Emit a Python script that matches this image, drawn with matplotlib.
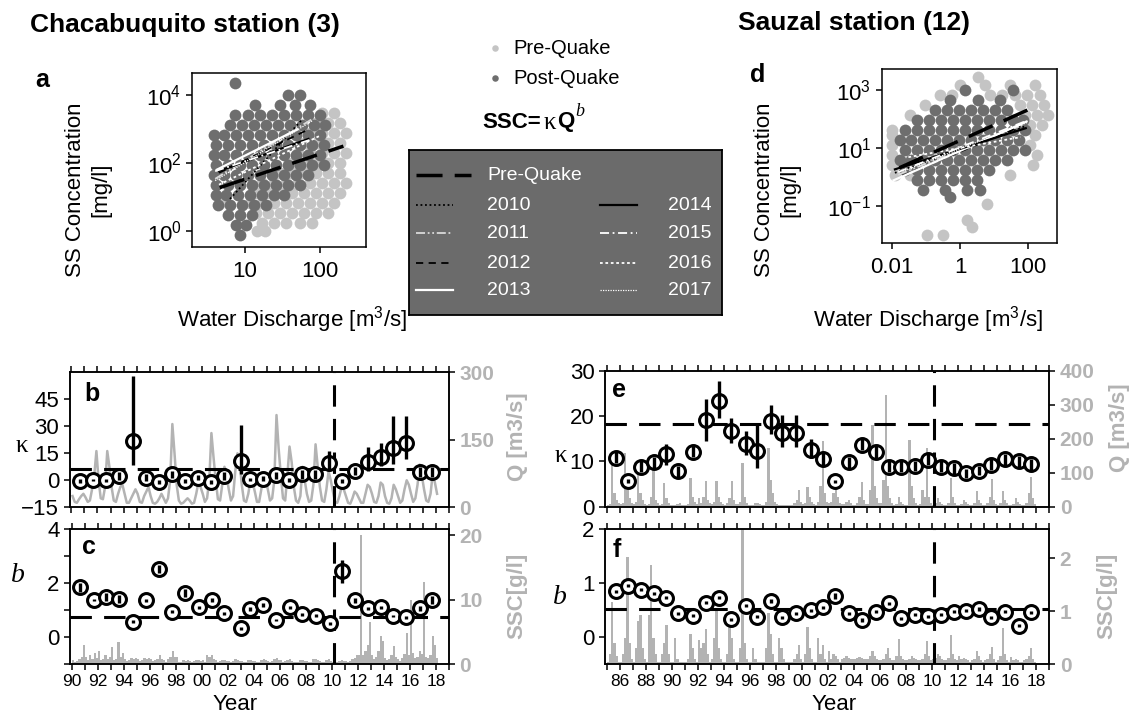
import numpy as np
import matplotlib
matplotlib.use("Agg")
import matplotlib.pyplot as plt
from matplotlib.ticker import NullLocator

plt.rcParams["font.family"] = ["Liberation Sans", "DejaVu Sans"]
plt.rcParams["mathtext.fontset"] = "custom"
plt.rcParams["mathtext.rm"] = "Liberation Sans"
plt.rcParams["mathtext.it"] = "Liberation Sans:italic"
plt.rcParams["mathtext.bf"] = "Liberation Sans:bold"
plt.rcParams["axes.linewidth"] = 1.1

W, H = 1136, 715
GRAY_TS = "#b3b3b3"
PRE_C = "#c4c4c4"
POST_C = "#6e6e6e"
QUAKE = 2010.16

# ---------------- Chacabuquito: annual rating-curve parameters (b, c)
chac_year = [1990.65, 1991.67, 1992.64, 1993.64, 1994.69, 1995.69, 1996.71, 1997.70,
             1998.70, 1999.75, 2000.74, 2001.69, 2003.04, 2003.68, 2004.70, 2005.72,
             2006.74, 2007.72, 2008.74, 2009.81, 2010.78, 2011.78, 2012.74, 2013.77,
             2014.71, 2015.69, 2016.76, 2017.68]
chac_k = [-0.4, 0.0, 0.0, 2.4, 21.8, 1.5, -0.8, 3.3, -0.4, 1.5, -0.8, 2.4, 10.7, 0.5,
          0.9, 2.8, 0.2, 3.3, 3.3, 9.4, -0.4, 5.2, 10.3, 13.1, 17.8, 20.9, 4.6, 4.6]
chac_k_lo = [-1.4, -0.6, -1.0, 0.4, 8.3, -0.5, -1.8, 1.3, -1.4, 0.0, -1.8, 0.4, 3.3, -0.5,
             -0.6, 0.8, -0.8, 0.8, 0.8, 5.2, -1.4, 3.2, 5.2, 7.9, 8.9, 11.7, 1.6, 1.6]
chac_k_hi = [0.6, 0.6, 1.0, 4.4, 58.0, 3.5, 0.2, 5.3, 0.6, 3.0, 0.2, 4.4, 30.5, 1.5,
             2.4, 4.8, 1.2, 5.8, 5.8, 16.3, 0.6, 7.2, 18.5, 20.6, 36.0, 36.0, 7.6, 7.6]
chac_b = [1.84, 1.38, 1.50, 1.41, 0.58, 1.36, 2.53, 0.95, 1.63, 1.11, 1.38, 0.89, 0.33, 1.04,
          1.20, 0.64, 1.10, 0.85, 0.79, 0.52, 2.43, 1.36, 1.07, 1.10, 0.79, 0.73, 1.07, 1.36]
chac_b_err = [0.15, 0.05, 0.15, 0.15, 0.04, 0.06, 0.15, 0.05, 0.15, 0.06, 0.06, 0.05, 0.05, 0.06,
              0.07, 0.05, 0.06, 0.06, 0.06, 0.05, 0.44, 0.08, 0.06, 0.06, 0.05, 0.05, 0.10, 0.15]
chac_k_pre, chac_b_pre = 6.1, 0.74

# ---------------- Sauzal: annual rating-curve parameters (e, f)
sauz_year = [1985.69, 1986.64, 1987.59, 1988.61, 1989.53, 1990.48, 1991.63, 1992.58, 1993.62,
             1994.52, 1995.67, 1996.54, 1997.59, 1998.49, 1999.56, 2000.66, 2001.60, 2002.56,
             2003.60, 2004.63, 2005.65, 2006.67, 2007.57, 2008.64, 2009.66, 2010.64, 2011.66,
             2012.61, 2013.58, 2014.53, 2015.63, 2016.65, 2017.60]
sauz_k = [10.8, 5.7, 8.8, 9.8, 11.6, 7.8, 12.2, 19.2, 23.3, 16.7, 13.9, 12.4, 19.0, 16.3, 16.3,
          12.6, 10.6, 5.6, 9.8, 13.7, 12.2, 8.8, 8.8, 9.0, 10.4, 8.8, 8.5, 7.4, 7.9, 9.3, 10.5,
          10.0, 9.4]
sauz_k_lo = [9.6, 5.3, 7.6, 8.6, 9.3, 6.6, 11.0, 14.6, 19.6, 14.1, 11.5, 8.5, 16.1, 13.1, 13.3,
             10.8, 9.1, 5.2, 8.6, 12.5, 10.7, 7.6, 7.6, 7.8, 9.2, 7.6, 7.3, 6.4, 6.9, 8.1, 9.3,
             8.8, 8.2]
sauz_k_hi = [12.0, 6.1, 10.0, 11.0, 13.9, 9.0, 13.4, 23.9, 27.8, 19.6, 16.7, 18.3, 22.4, 20.2,
             20.2, 15.0, 12.1, 6.0, 11.0, 14.9, 13.7, 10.0, 10.0, 10.2, 11.6, 10.0, 9.7, 8.4,
             8.9, 10.5, 11.7, 11.2, 10.6]
sauz_b = [0.85, 0.95, 0.88, 0.81, 0.73, 0.44, 0.40, 0.64, 0.73, 0.33, 0.58, 0.38, 0.67, 0.37,
          0.44, 0.50, 0.55, 0.76, 0.44, 0.32, 0.47, 0.63, 0.35, 0.42, 0.39, 0.42, 0.47, 0.49,
          0.52, 0.37, 0.47, 0.21, 0.46]
sauz_b_err = [0.03, 0.03, 0.03, 0.03, 0.03, 0.03, 0.03, 0.03, 0.03, 0.03, 0.03, 0.03, 0.03,
              0.03, 0.03, 0.03, 0.03, 0.06, 0.03, 0.03, 0.03, 0.03, 0.03, 0.03, 0.03, 0.03,
              0.03, 0.03, 0.03, 0.03, 0.03, 0.03, 0.03]
sauz_k_pre, sauz_b_pre = 18.2, 0.53

# ---------------- gray background series, six samples per year (Jan..Nov)
chac_q = [25, 12, 10, 18, 25, 30,      # 1990
          22, 12, 15, 40, 70, 125,
          60, 20, 18, 45, 125, 90,
          45, 15, 12, 30, 45, 50,
          30, 10, 10, 20, 30, 40,
          30, 12, 10, 25, 35, 45,      # 1995
          25, 10, 8, 12, 20, 30,
          20, 10, 20, 60, 185, 120,
          50, 15, 8, 10, 15, 20,
          15, 8, 10, 30, 55, 45,
          30, 12, 20, 60, 165, 110,    # 2000
          60, 18, 15, 50, 90, 70,
          40, 15, 25, 80, 120, 100,
          50, 15, 12, 30, 60, 55,
          35, 12, 12, 40, 70, 60,
          40, 15, 20, 60, 205, 130,    # 2005
          70, 20, 15, 70, 135, 100,
          45, 15, 10, 25, 90, 60,
          30, 12, 15, 50, 140, 90,
          45, 15, 12, 40, 80, 60,
          35, 12, 10, 25, 45, 40,      # 2010
          25, 10, 8, 20, 35, 30,
          20, 10, 10, 30, 50, 45,
          30, 12, 10, 25, 55, 50,
          25, 10, 8, 20, 50, 40,
          25, 10, 15, 40, 60, 50,      # 2015
          30, 12, 20, 50, 95, 70,
          40, 15, 12, 30, 75, 55,
          30]
chac_ssc = [0.7, 0.4, 0.5, 0.8, 1.2, 3.0,   # 1990
            1.2, 0.6, 1.5, 0.8, 1.7, 1.0,
            2.0, 0.6, 0.8, 1.5, 0.9, 1.2,
            2.7, 0.7, 0.9, 3.5, 1.2, 1.7,
            0.8, 0.5, 0.6, 1.0, 0.9, 1.0,
            0.9, 0.5, 0.7, 1.0, 0.8, 1.0,   # 1995
            0.8, 0.5, 0.6, 0.9, 1.4, 0.8,
            0.7, 0.4, 0.8, 1.2, 2.1, 1.1,
            1.1, 0.4, 0.4, 0.6, 0.5, 0.6,
            0.5, 0.4, 0.5, 0.6, 0.7, 0.5,
            0.6, 0.4, 1.5, 1.2, 1.5, 0.8,   # 2000
            0.6, 0.4, 0.5, 0.7, 0.6, 0.5,
            0.5, 0.3, 0.5, 0.8, 0.6, 0.5,
            0.5, 0.3, 0.4, 0.6, 0.6, 0.5,
            0.5, 0.3, 0.4, 0.7, 0.8, 0.6,
            0.5, 0.3, 0.5, 0.8, 1.0, 0.6,   # 2005
            0.6, 0.3, 0.5, 0.7, 0.8, 0.5,
            0.4, 0.3, 0.4, 0.6, 0.7, 0.5,
            0.5, 0.3, 0.4, 0.8, 0.9, 0.6,
            0.5, 0.3, 0.4, 0.6, 0.8, 0.5,
            0.4, 0.3, 0.4, 0.5, 0.6, 0.5,   # 2010
            0.5, 0.4, 0.5, 0.8, 1.0, 1.4,
            1.5, 20.0, 1.4, 2.0, 3.0, 6.6,
            1.5, 0.8, 1.2, 2.0, 4.4, 3.6,
            1.0, 0.6, 0.8, 1.5, 2.8, 1.2,
            0.8, 0.5, 1.0, 1.6, 4.8, 1.5,   # 2015
            10.0, 1.7, 1.0, 1.2, 2.0, 1.6,
            12.8, 1.2, 1.0, 1.5, 4.4, 3.0,
            1.0]
sauz_q = [5, 8, 143, 40, 20, 10,       # 1985
          8, 10, 157, 50, 25, 12,
          8, 15, 95, 40, 20, 8,
          6, 8, 30, 108, 20, 10,
          5, 8, 69, 25, 12, 6,
          4, 5, 8, 12, 6, 4,           # 1990
          5, 8, 84, 30, 15, 8,
          26, 10, 30, 76, 20, 10,
          8, 15, 76, 30, 15, 8,
          6, 10, 25, 76, 20, 8,
          8, 15, 128, 30, 12, 6,       # 1995
          5, 6, 10, 12, 8, 5,
          6, 15, 172, 80, 40, 15,
          8, 6, 5, 6, 5, 4,
          5, 6, 10, 20, 49, 15,
          8, 10, 59, 30, 15, 8,        # 2000
          6, 15, 60, 194, 40, 15,
          10, 15, 40, 70, 30, 12,
          8, 8, 15, 20, 10, 6,
          6, 10, 30, 74, 20, 8,
          8, 50, 241, 60, 25, 10,      # 2005
          10, 80, 329, 60, 25, 10,
          6, 8, 30, 15, 8, 5,
          6, 197, 60, 25, 12, 6,
          8, 49, 30, 172, 30, 10,
          6, 10, 26, 15, 8, 5,         # 2010
          5, 10, 84, 30, 12, 5,
          5, 8, 20, 15, 8, 4,
          5, 10, 46, 20, 10, 5,
          5, 10, 30, 82, 20, 8,
          6, 10, 46, 20, 10, 5,        # 2015
          5, 8, 25, 15, 8, 5,
          6, 12, 40, 87, 25, 8]
sauz_ssc = [0.05, 0.2, 1.17, 0.4, 0.15, 0.05,   # 1985
            0.05, 0.2, 0.5, 2.03, 0.4, 0.1,
            0.05, 0.3, 0.81, 0.93, 0.3, 0.1,
            0.05, 0.93, 1.88, 0.5, 0.2, 0.05,
            0.05, 0.2, 0.4, 0.75, 0.2, 0.05,
            0.05, 0.49, 0.1, 0.05, 0.05, 0.05,  # 1990
            0.05, 0.1, 0.57, 0.3, 0.1, 0.05,
            0.46, 0.3, 0.4, 0.67, 0.2, 0.05,
            0.1, 0.5, 1.03, 0.3, 0.1, 0.05,
            0.05, 0.2, 1.0, 0.5, 0.1, 0.05,
            0.05, 0.3, 2.55, 0.4, 0.1, 0.05,    # 1995
            0.05, 0.3, 0.1, 0.05, 0.05, 0.05,
            0.05, 0.3, 0.97, 0.57, 0.2, 0.05,
            0.05, 0.5, 0.3, 0.1, 0.05, 0.05,
            0.05, 0.05, 0.1, 0.2, 0.37, 0.1,
            0.05, 0.2, 0.71, 0.3, 0.1, 0.05,    # 2000
            0.05, 0.49, 0.2, 0.37, 0.1, 0.05,
            0.25, 0.1, 0.2, 0.15, 0.1, 0.05,
            0.1, 0.12, 0.15, 0.12, 0.1, 0.1,
            0.1, 0.12, 0.14, 0.12, 0.1, 0.1,
            0.1, 0.15, 0.26, 0.15, 0.1, 0.08,   # 2005
            0.08, 0.1, 0.2, 0.31, 0.12, 0.08,
            0.08, 0.15, 0.47, 0.15, 0.1, 0.08,
            0.08, 0.1, 0.15, 0.12, 0.1, 0.08,
            0.08, 0.1, 0.2, 0.43, 0.15, 0.08,
            0.1, 0.12, 0.2, 0.15, 0.1, 0.08,    # 2010
            0.08, 0.12, 0.56, 0.2, 0.1, 0.08,
            0.15, 0.1, 0.12, 0.1, 0.08, 0.05,
            0.08, 0.1, 0.26, 0.15, 0.08, 0.05,
            0.08, 0.1, 0.2, 0.33, 0.1, 0.05,
            0.08, 0.15, 0.68, 0.2, 0.08, 0.05,  # 2015
            0.14, 0.08, 0.1, 0.08, 0.05, 0.05,
            0.08, 0.1, 0.15, 0.31, 0.1, 0.05]

# ---------------- scatter clouds, rows of (log10 SSC, [log10 Q, ...])
chac_post_rows = [
    (4.35, [0.87]),
    (4.00, [1.57, 1.73]),
    (3.71, [1.13, 1.47, 1.67, 1.87]),
    (3.41, [0.87, 1.04, 1.20, 1.36, 1.52, 1.68, 1.84, 2.00]),
    (3.12, [0.80, 0.96, 1.12, 1.28, 1.44, 1.60, 1.76, 1.92, 2.07]),
    (2.82, [0.59, 0.72, 0.88, 1.04, 1.20, 1.36, 1.52, 1.68, 1.84, 2.00]),
    (2.53, [0.61, 0.77, 0.93, 1.09, 1.25, 1.41, 1.57, 1.73, 1.89, 2.05]),
    (2.24, [0.59, 0.72, 0.88, 1.04, 1.20, 1.36, 1.52, 1.68, 1.84, 2.00]),
    (1.94, [0.61, 0.77, 0.93, 1.09, 1.25, 1.41, 1.57, 1.73, 1.89, 2.05]),
    (1.65, [0.59, 0.72, 0.88, 1.04, 1.20, 1.36, 1.52, 1.68, 1.84]),
    (1.35, [0.61, 0.77, 0.93, 1.09, 1.25, 1.41, 1.57, 1.73]),
    (1.06, [0.61, 0.75, 0.91, 1.07, 1.23, 1.39, 1.52]),
    (0.76, [0.64, 0.80, 0.96, 1.12, 1.28]),
    (0.47, [0.77, 0.93, 1.09]),
    (0.18, [0.88, 1.01]),
    (-0.12, [0.93]),
]
chac_pre_rows = [
    (3.47, [2.03, 2.19]),
    (3.18, [1.95, 2.11, 2.27]),
    (2.88, [1.87, 2.03, 2.19, 2.35]),
    (2.59, [1.79, 1.95, 2.11, 2.27]),
    (2.29, [1.71, 1.87, 2.03, 2.19, 2.35]),
    (2.00, [1.63, 1.79, 1.95, 2.11, 2.27]),
    (1.71, [1.47, 1.63, 1.79, 1.95, 2.11, 2.27]),
    (1.41, [1.23, 1.39, 1.55, 1.71, 1.87, 2.03, 2.19, 2.35]),
    (1.12, [1.15, 1.31, 1.47, 1.63, 1.79, 1.95, 2.11, 2.27]),
    (0.82, [0.67, 1.07, 1.23, 1.39, 1.55, 1.71, 1.87, 2.03, 2.19]),
    (0.53, [1.15, 1.31, 1.47, 1.63, 1.79, 1.95, 2.11]),
    (0.24, [1.23, 1.39, 1.55, 1.73, 1.89]),
    (0.00, [1.16, 1.27]),
]
sauz_post_rows = [
    (3.00, [0.14, 1.55]),
    (2.65, [-0.30, 0.52, 1.17]),
    (2.30, [-0.75, -0.39, -0.04, 0.31, 0.67, 1.02, 1.37]),
    (1.96, [-1.27, -0.92, -0.57, -0.22, 0.14, 0.49, 0.84, 1.20, 1.55, 1.84]),
    (1.61, [-1.63, -1.27, -0.92, -0.57, -0.22, 0.14, 0.49, 0.84, 1.20, 1.55, 1.90]),
    (1.27, [-1.78, -1.45, -1.10, -0.75, -0.39, -0.04, 0.31, 0.67, 1.02, 1.37, 1.73]),
    (0.92, [-1.63, -1.27, -0.92, -0.57, -0.22, 0.14, 0.49, 0.84, 1.20, 1.55, 1.90]),
    (0.57, [-1.78, -1.45, -1.10, -0.75, -0.39, -0.04, 0.31, 0.67, 1.02, 1.37]),
    (0.23, [-1.63, -1.27, -0.92, -0.57, -0.22, 0.14, 0.49, 0.84]),
    (-0.12, [-1.27, -0.92, -0.57, -0.22, 0.14, 0.49]),
    (-0.46, [-1.10, -0.45, 0.19, 0.58]),
    (-0.70, [-0.30]),
]
sauz_pre_rows = [
    (3.45, [0.52]),
    (3.17, [-0.01, 0.72, 1.46, 2.19]),
    (2.82, [-0.60, -0.25, 0.87, 1.23, 1.61, 1.96, 2.34]),
    (2.48, [-1.04, 1.76, 2.11, 2.46]),
    (2.13, [-1.48, 1.90, 2.26, 2.58]),
    (1.79, [2.05, 2.40]),
    (1.61, [-2.00]),
    (1.44, [-2.00, 2.20]),
    (1.09, [-2.00, 2.05]),
    (0.75, [-2.00, 2.26]),
    (0.40, [-2.00, -1.63, 2.14]),
    (0.06, [-1.92, -1.48, 1.46]),
    (-0.95, [0.78]),
    (-1.50, [0.20]),
    (-1.74, [0.34]),
    (-2.03, [-0.98, -0.51]),
]

# discharge range covered by each yearly fit (2010..2017) and the pre-quake fit
fit_years = [2010, 2011, 2012, 2013, 2014, 2015, 2016, 2017]
chac_fit_qlo = [6.3, 4.0, 4.5, 4.2, 4.5, 4.0, 4.5, 4.0]
chac_fit_qhi = [56, 80, 70, 50, 70, 80, 100, 80]
chac_pre_rng = (4.6, 205)
sauz_fit_qlo = [0.012, 0.015, 0.02, 0.011, 0.012, 0.015, 0.03, 0.02]
sauz_fit_qhi = [80, 70, 60, 90, 85, 90, 60, 100]
sauz_pre_rng = (0.016, 160)

line_style = {
    "pre": dict(color="k", lw=2.5, dashes=(7.5, 3.5)),
    2010: dict(color="k", lw=1.3, dashes=(1, 1.5)),
    2011: dict(color="#d9d9d9", lw=1.3, dashes=(5, 1.5, 1, 1.5, 1, 1.5)),
    2012: dict(color="k", lw=1.3, dashes=(4, 3)),
    2013: dict(color="white", lw=1.6),
    2014: dict(color="k", lw=1.6),
    2015: dict(color="white", lw=1.3, dashes=(5, 2, 1, 2)),
    2016: dict(color="white", lw=1.3, dashes=(1.5, 1.5)),
    2017: dict(color="white", lw=0.9, dashes=(1, 1)),
}


def px_axes(fig, l, t, r, b):
    return fig.add_axes([l / W, 1 - b / H, (r - l) / W, (b - t) / H])


def expand(rows):
    q, s = [], []
    for lssc, lqs in rows:
        for lq in lqs:
            q.append(10 ** lq)
            s.append(10 ** lssc)
    return q, s


fig = plt.figure(figsize=(W / 100, H / 100), dpi=100)


def scatter_panel(box, pre_rows, post_rows, k_pre, b_pre, pre_rng, ks, bs, qlo, qhi,
                  xlim, ylim, xticks, yticks, xlabels):
    ax = px_axes(fig, *box)
    ax.set_xscale("log")
    ax.set_yscale("log")
    q, s = expand(pre_rows)
    ax.scatter(q, s, s=72, color=PRE_C, linewidths=0, zorder=1)
    q, s = expand(post_rows)
    ax.scatter(q, s, s=72, color=POST_C, linewidths=0, zorder=2)
    qq = np.array(pre_rng)
    ax.plot(qq, k_pre * qq ** b_pre, zorder=4, **line_style["pre"])
    for yr, k, b, lo, hi in zip(fit_years, ks, bs, qlo, qhi):
        qq = np.array([lo, hi])
        ax.plot(qq, max(k, 0.1) * qq ** b, zorder=3, **line_style[yr])
    ax.set_xlim(*xlim)
    ax.set_ylim(*ylim)
    ax.set_xticks(xticks)
    ax.set_xticklabels(xlabels)
    ax.set_yticks(yticks)
    ax.xaxis.set_minor_locator(NullLocator())
    ax.yaxis.set_minor_locator(NullLocator())
    ax.tick_params(direction="out", length=4, width=1.1, labelsize=16)
    ax.tick_params(axis="x", pad=6)
    return ax


ax_a = scatter_panel((192, 73, 366, 247), chac_pre_rows, chac_post_rows, chac_k_pre,
                     chac_b_pre, chac_pre_rng, chac_k[-8:], chac_b[-8:], chac_fit_qlo,
                     chac_fit_qhi, (10 ** 0.293, 10 ** 2.613), (10 ** -0.47, 10 ** 4.647),
                     [10, 100], [1, 100, 1e4], ["10", "100"])
ax_d = scatter_panel((881.7, 69, 1056.7, 243), sauz_pre_rows, sauz_post_rows, sauz_k_pre,
                     sauz_b_pre, sauz_pre_rng, sauz_k[-8:], sauz_b[-8:], sauz_fit_qlo,
                     sauz_fit_qhi, (10 ** -2.31, 10 ** 2.84), (10 ** -2.29, 10 ** 3.73),
                     [0.01, 1, 100], [0.1, 10, 1000], ["0.01", "1", "100"])


def param_panel(box, x, y, lo, hi, pre, xlim, ylim, yticks, ylabels, top_panel):
    ax = px_axes(fig, *box)
    ax2 = ax.twinx()
    ax.set_zorder(ax2.get_zorder() + 1)
    ax.patch.set_visible(False)
    ax.axhline(pre, color="k", lw=2.2, dashes=(7, 4), zorder=2)
    ax.axvline(QUAKE, color="k", lw=2.2, dashes=(7, 4), zorder=2)
    ax.plot(x, y, "o", ls="none", ms=10, mfc="white", mec="k", mew=2.2, zorder=3)
    ax.vlines(x, lo, hi, color="k", lw=2.4, zorder=4)
    ax.set_xlim(*xlim)
    ax.set_ylim(*ylim)
    ax.set_yticks(yticks)
    ax.set_yticklabels(ylabels)
    years = list(range(int(np.ceil(xlim[0])), 2020))
    ax.set_xticks(years)
    ax.set_xticklabels([f"{yr % 100:02d}" if yr % 2 == 0 else "" for yr in years])
    ax.tick_params(axis="x", direction="out", length=4, width=1.1, top=True, bottom=True,
                   labelbottom=not top_panel, labelsize=12.5, pad=3)
    ax.tick_params(axis="y", direction="out", length=4, width=1.1, labelsize=16)
    ax2.set_xlim(*xlim)
    return ax, ax2


def style_right(ax2, ylim, ticks):
    ax2.set_ylim(*ylim)
    ax2.set_yticks(ticks)
    ax2.tick_params(axis="y", direction="out", length=4, width=1.1, labelsize=15,
                    labelcolor=GRAY_TS)
    for t in ax2.get_yticklabels():
        t.set_fontweight("bold")


chac_t = 1990 + 1 / 12 + np.arange(len(chac_q)) / 6
sauz_t = 1985 + 1 / 12 + np.arange(len(sauz_q)) / 6
ch_xlim = (1989.85, 2019.0)
sz_xlim = (1984.85, 2019.0)

ax_b, ax_b2 = param_panel((69.5, 372.3, 449, 507.3), chac_year, chac_k, chac_k_lo, chac_k_hi,
                          chac_k_pre, ch_xlim, (-15, 60), [-15, 0, 15, 30, 45],
                          ["\u221215", "0", "15", "30", "45"], True)
ax_b2.plot(chac_t, chac_q, color=GRAY_TS, lw=1.8)
style_right(ax_b2, (0, 300), [0, 150, 300])

b_lo = [v - e for v, e in zip(chac_b, chac_b_err)]
b_hi = [v + e for v, e in zip(chac_b, chac_b_err)]
ax_c, ax_c2 = param_panel((70, 529, 449, 664.3), chac_year, chac_b, b_lo, b_hi, chac_b_pre,
                          ch_xlim, (-1, 4), [-1, 0, 1, 2, 3, 4], ["", "0", "", "2", "", "4"],
                          False)
ax_c2.bar(chac_t, chac_ssc, width=1 / 6, color=GRAY_TS, linewidth=0)
style_right(ax_c2, (0, 21), [0, 10, 20])

ax_e, ax_e2 = param_panel((605, 371, 1049.3, 506.7), sauz_year, sauz_k, sauz_k_lo, sauz_k_hi,
                          sauz_k_pre, sz_xlim, (0, 30), [0, 10, 20, 30],
                          ["0", "10", "20", "30"], True)
ax_e2.bar(sauz_t, sauz_q, width=1 / 6, color=GRAY_TS, linewidth=0)
style_right(ax_e2, (0, 400), [0, 100, 200, 300, 400])

sb_lo = [v - e for v, e in zip(sauz_b, sauz_b_err)]
sb_hi = [v + e for v, e in zip(sauz_b, sauz_b_err)]
ax_f, ax_f2 = param_panel((605, 529, 1049.3, 664.3), sauz_year, sauz_b, sb_lo, sb_hi,
                          sauz_b_pre, sz_xlim, (-0.5, 2), [0, 1, 2], ["0", "1", "2"], False)
ax_f2.bar(sauz_t, sauz_ssc, width=1 / 6, color=GRAY_TS, linewidth=0)
style_right(ax_f2, (0, 2.55), [0, 1, 2])

# ---------------- legend box for the fitted lines
lg = px_axes(fig, 409, 150, 722, 315)
lg.set_facecolor("#6b6b6b")
lg.set_xlim(409, 722)
lg.set_ylim(315, 150)
lg.set_xticks([])
lg.set_yticks([])
for sp in lg.spines.values():
    sp.set_linewidth(1.3)
lg.plot([416, 471], [175, 175], **line_style["pre"])
lg.text(487, 175, "Pre-Quake", color="white", fontsize=14, va="center")
rows_y = [205, 233, 263, 290]
for i, yr in enumerate(fit_years):
    col = i // 4
    y = rows_y[i % 4]
    x0 = 416 if col == 0 else 600
    lg.plot([x0, x0 + 37], [y, y], **line_style[yr])
    lg.text(487 if col == 0 else 668, y, str(yr), color="white", fontsize=14, va="center")

# ---------------- overlay text
ov = fig.add_axes([0, 0, 1, 1])
ov.set_xlim(0, W)
ov.set_ylim(H, 0)
ov.axis("off")
ov.set_zorder(20)

ov.text(30, 25, "Chacabuquito station (3)", fontsize=19, fontweight="bold", va="center")
ov.text(738, 23, "Sauzal station (12)", fontsize=19, fontweight="bold", va="center")
for lab, (x, y) in {"a": (42, 80), "d": (758, 75), "b": (92, 394), "c": (89, 547),
                    "e": (619, 390), "f": (617, 550)}.items():
    ov.text(x, y, lab, fontsize=18, fontweight="bold", ha="center", va="center")

for x in (88, 777):
    ov.text(x, 190, "SS Concentration\n[mg/l]", fontsize=16, rotation=90, ha="center",
            va="center", linespacing=1.3)
ov.text(292, 320, "Water Discharge [m$^{3}$/s]", fontsize=16, ha="center", va="center")
ov.text(928, 320, "Water Discharge [m$^{3}$/s]", fontsize=16, ha="center", va="center")

ov.scatter([495], [48], s=22, color=PRE_C, linewidths=0)
ov.scatter([495], [78], s=22, color=POST_C, linewidths=0)
ov.text(513, 48, "Pre-Quake", fontsize=14.5, va="center")
ov.text(513, 78, "Post-Quake", fontsize=14.5, va="center")

r = fig.canvas.get_renderer()
t = ov.text(482, 122, "SSC=", fontsize=16, fontweight="bold", va="center")
x = t.get_window_extent(r).x1 + 3
t = ov.text(x, 123, "\u03ba", fontsize=18, family="Liberation Serif", va="center")
x = t.get_window_extent(r).x1 + 1
t = ov.text(x, 122, "Q", fontsize=16, fontweight="bold", va="center")
x = t.get_window_extent(r).x1 + 1
ov.text(x, 112, "b", fontsize=13, family="Liberation Serif", style="italic", va="center")

ov.text(22, 446, "\u03ba", fontsize=18, family="Liberation Serif", ha="center", va="center")
ov.text(561, 456, "\u03ba", fontsize=18, family="Liberation Serif", ha="center", va="center")
ov.text(18, 575, "b", fontsize=20, family="Liberation Serif", style="italic", ha="center",
        va="center")
ov.text(560, 598, "b", fontsize=20, family="Liberation Serif", style="italic", ha="center",
        va="center")

for x, y, s in [(518, 437, "Q [m3/s]"), (517, 596, "SSC[g/l]"),
                (1120, 428, "Q [m3/s]"), (1107, 596, "SSC[g/l]")]:
    ov.text(x, y, s, fontsize=16, fontweight="bold", color=GRAY_TS, rotation=90,
            ha="center", va="center")

ov.text(235, 704, "Year", fontsize=16, ha="center", va="center")
ov.text(834, 704, "Year", fontsize=16, ha="center", va="center")

fig.savefig("out.png", dpi=100)
